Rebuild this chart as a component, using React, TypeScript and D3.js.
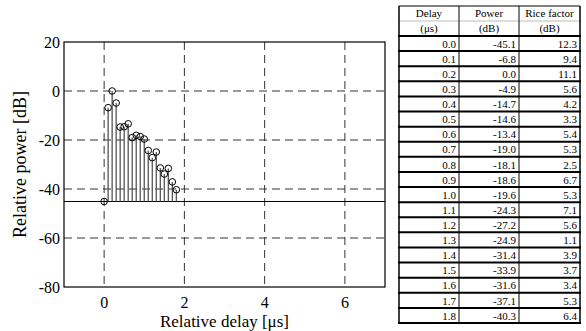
import { useEffect, useRef } from 'react';
import * as d3 from 'd3';

// Table / chart data
const delays = [0.0, 0.1, 0.2, 0.3, 0.4, 0.5, 0.6, 0.7, 0.8, 0.9, 1.0, 1.1, 1.2, 1.3, 1.4, 1.5, 1.6, 1.7, 1.8];
const powers = [-45.1, -6.8, 0.0, -4.9, -14.7, -14.6, -13.4, -19.0, -18.1, -18.6, -19.6, -24.3, -27.2, -24.9, -31.4, -33.9, -31.6, -37.1, -40.3];
const riceFactors = [12.3, 9.4, 11.1, 5.6, 4.2, 3.3, 5.4, 5.3, 2.5, 6.7, 5.3, 7.1, 5.6, 1.1, 3.9, 3.7, 3.4, 5.3, 6.4];

const xTicks = [0, 2, 4, 6];
const yTicks = [20, 0, -20, -40, -60, -80];
const xGrid = [0, 2, 4, 6];
const yGrid = [0, -20, -40, -60];

const headerTop = ['Delay', 'Power', 'Rice factor'];
const headerBottom = ['(μs)', '(dB)', '(dB)'];

const FONT = '"Liberation Serif", "Times New Roman", serif';

export default function App() {
    const svgRef = useRef<SVGSVGElement>(null);

    useEffect(() => {
        if (!svgRef.current) return;
        const svg = d3.select(svgRef.current);
        svg.selectAll('*').remove();

        // ---------- chart ----------
        const plot = { left: 64, right: 385, top: 42, bottom: 287 };
        const x = d3.scaleLinear().domain([-1, 7]).range([plot.left, plot.right]);
        const y = d3.scaleLinear().domain([-80, 20]).range([plot.bottom, plot.top]);
        const baseline = powers[0];

        const g = svg.append('g');

        // grid
        g.selectAll('line.gx')
            .data(xGrid)
            .enter()
            .append('line')
            .attr('x1', d => x(d))
            .attr('x2', d => x(d))
            .attr('y1', plot.top)
            .attr('y2', plot.bottom)
            .attr('stroke', '#333')
            .attr('stroke-width', 1)
            .attr('stroke-dasharray', '8,5');

        g.selectAll('line.gy')
            .data(yGrid)
            .enter()
            .append('line')
            .attr('x1', plot.left)
            .attr('x2', plot.right)
            .attr('y1', d => y(d))
            .attr('y2', d => y(d))
            .attr('stroke', '#333')
            .attr('stroke-width', 1)
            .attr('stroke-dasharray', '8,5');

        // baseline
        g.append('line')
            .attr('x1', plot.left)
            .attr('x2', plot.right)
            .attr('y1', y(baseline))
            .attr('y2', y(baseline))
            .attr('stroke', '#000')
            .attr('stroke-width', 1);

        // stems
        g.selectAll('line.stem')
            .data(delays)
            .enter()
            .append('line')
            .attr('x1', d => x(d))
            .attr('x2', d => x(d))
            .attr('y1', y(baseline))
            .attr('y2', (_, i) => y(powers[i]))
            .attr('stroke', '#555')
            .attr('stroke-width', 1.3);

        // markers
        g.selectAll('circle')
            .data(delays)
            .enter()
            .append('circle')
            .attr('cx', d => x(d))
            .attr('cy', (_, i) => y(powers[i]))
            .attr('r', 3.3)
            .attr('fill', 'none')
            .attr('stroke', '#000')
            .attr('stroke-width', 1);

        // frame
        g.append('rect')
            .attr('x', plot.left)
            .attr('y', plot.top)
            .attr('width', plot.right - plot.left)
            .attr('height', plot.bottom - plot.top)
            .attr('fill', 'none')
            .attr('stroke', '#000')
            .attr('stroke-width', 1.2);

        // tick labels
        g.selectAll('text.xt')
            .data(xTicks)
            .enter()
            .append('text')
            .attr('x', d => x(d))
            .attr('y', plot.bottom + 21)
            .attr('text-anchor', 'middle')
            .attr('font-family', FONT)
            .attr('font-size', 16)
            .text(d => d);

        g.selectAll('text.yt')
            .data(yTicks)
            .enter()
            .append('text')
            .attr('x', plot.left - 4)
            .attr('y', d => y(d))
            .attr('dy', '0.35em')
            .attr('text-anchor', 'end')
            .attr('font-family', FONT)
            .attr('font-size', 16)
            .text(d => d);

        // axis titles
        g.append('text')
            .attr('x', (plot.left + plot.right) / 2)
            .attr('y', 327)
            .attr('text-anchor', 'middle')
            .attr('font-family', FONT)
            .attr('font-size', 17)
            .text('Relative delay [μs]');

        g.append('text')
            .attr('transform', `translate(26,${(plot.top + plot.bottom) / 2}) rotate(-90)`)
            .attr('text-anchor', 'middle')
            .attr('font-family', FONT)
            .attr('font-size', 18)
            .text('Relative power [dB]');

        // ---------- table ----------
        const cols = [399, 459, 519, 580];
        const tTop = 6;
        const tHeadMid = 21;
        const tHeadBottom = 36;
        const tBottom = 323;
        const rows = d3.scaleBand<number>()
            .domain(d3.range(delays.length))
            .range([tHeadBottom, tBottom]);

        const t = svg.append('g');

        // header
        t.append('line')
            .attr('x1', cols[0]).attr('x2', cols[3])
            .attr('y1', tTop).attr('y2', tTop)
            .attr('stroke', '#000').attr('stroke-width', 1);
        t.append('line')
            .attr('x1', cols[0]).attr('x2', cols[3])
            .attr('y1', tHeadMid).attr('y2', tHeadMid)
            .attr('stroke', '#bbb').attr('stroke-width', 1);

        [headerTop, headerBottom].forEach((labels, r) => {
            t.selectAll(`text.h${r}`)
                .data(labels)
                .enter()
                .append('text')
                .attr('x', (_, i) => (cols[i] + cols[i + 1]) / 2)
                .attr('y', r === 0 ? (tTop + tHeadMid) / 2 : (tHeadMid + tHeadBottom) / 2)
                .attr('dy', '0.35em')
                .attr('text-anchor', 'middle')
                .attr('font-family', FONT)
                .attr('font-size', 11)
                .text(d => d);
        });

        // row separators
        t.selectAll('line.row')
            .data(d3.range(delays.length + 1))
            .enter()
            .append('line')
            .attr('x1', cols[0] - 1)
            .attr('x2', cols[3] + 1)
            .attr('y1', i => (i < delays.length ? rows(i)! : tBottom))
            .attr('y2', i => (i < delays.length ? rows(i)! : tBottom))
            .attr('stroke', '#000')
            .attr('stroke-width', 2);

        // verticals
        t.selectAll('line.col')
            .data(cols)
            .enter()
            .append('line')
            .attr('x1', d => d)
            .attr('x2', d => d)
            .attr('y1', tTop)
            .attr('y2', tBottom)
            .attr('stroke', '#000')
            .attr('stroke-width', (_, i) => (i === 0 || i === 3 ? 1.5 : 1));

        // cells
        const cellValues = [delays, powers, riceFactors];
        cellValues.forEach((vals, c) => {
            t.selectAll(`text.c${c}`)
                .data(vals)
                .enter()
                .append('text')
                .attr('x', cols[c + 1] - 3)
                .attr('y', (_, i) => rows(i)! + rows.bandwidth() / 2)
                .attr('dy', '0.38em')
                .attr('text-anchor', 'end')
                .attr('font-family', FONT)
                .attr('font-size', 11)
                .text(d => d3.format('.1f')(d).replace('−', '-'));
        });
    }, []);

    return (
        <div style={{ position: 'absolute', left: 0, top: 0, background: '#fff' }}>
            <svg ref={svgRef} width={586} height={331} />
        </div>
    );
}
